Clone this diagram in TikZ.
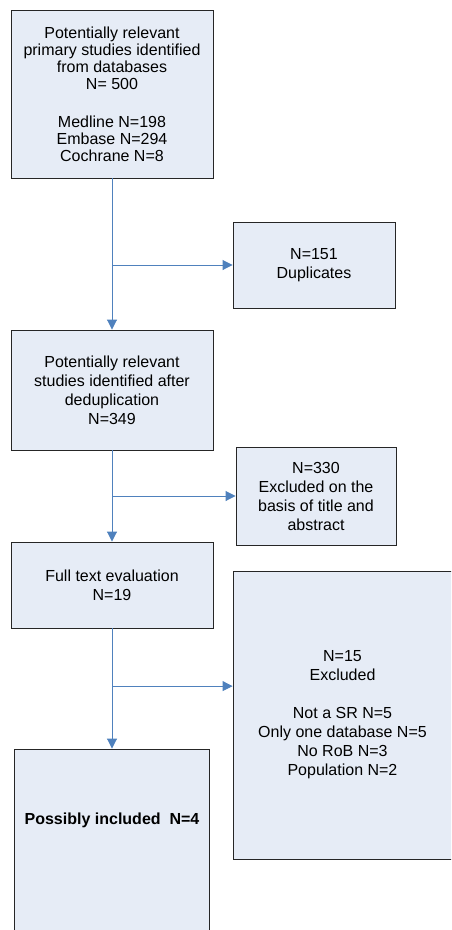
\documentclass[tikz,border=0pt]{standalone}
\usepackage{fontspec}
\setmainfont{Liberation Sans}
\usetikzlibrary{calc}
\usetikzlibrary{arrows.meta}
\usetikzlibrary{positioning}

\definecolor{boxfill}{RGB}{230,236,246}
\definecolor{flowblue}{RGB}{79,129,189}

\tikzset{
  stagebox/.style={draw=black!85, line width=0.9pt, fill=boxfill,
    align=center, inner sep=3pt,
    font=\fontsize{16}{19}\selectfont},
}

\begin{document}
\begin{tikzpicture}[x=1pt, y=-1pt]

    \useasboundingbox (0,0) rectangle (451,930);
    \clip (0,0) rectangle (451,930);

    % boxes of the flow chart, centres at the tuple
    \begin{scope}[every node/.style={stagebox}]
    \node[minimum width=202pt, minimum height=168pt,
          font=\fontsize{16}{17}\selectfont] (found) at (112,94)
      {Potentially relevant\\ primary studies identified\\ from databases\\ N= 500\\[4pt]
       \\ Medline N=198\\ Embase N=294\\ Cochrane N=8};
    \node[minimum width=162pt, minimum height=86pt] (dupl) at (314,265)
      {N=151\\ Duplicates};
    \node[minimum width=202pt, minimum height=120pt] (dedup) at (112,390)
      {Potentially relevant\\ studies identified after\\ deduplication\\ N=349};
    \node[minimum width=160pt, minimum height=98pt] (extitle) at (316,496)
      {N=330\\ Excluded on the\\ basis of title and\\ abstract};
    \node[minimum width=202pt, minimum height=86pt] (fulltext) at (112,585)
      {Full text evaluation\\ N=19};
    \node[minimum width=219pt, minimum height=288pt] (exfull) at (342.5,715)
      {N=15\\ Excluded\\ \\ Not a SR N=5\\ Only one database N=5\\ No RoB N=3\\ Population N=2};
    \node[minimum width=195pt, minimum height=206pt,
          label={[font=\fontsize{16}{19}\selectfont\bfseries, anchor=north, yshift=-61pt]north:Possibly included\ \ N=4}]
      (incl) at (112,852) {};
    \end{scope}

    % branching points on the vertical line
    \coordinate (j1) at (found.south |- dupl.west);
    \coordinate (j2) at (dedup.south |- extitle.west);
    \coordinate (j3) at ($(fulltext.south)!0.48!(incl.north)$);

    % connectors
    \begin{scope}[>={Triangle[length=10pt, width=10pt]},
              every edge/.style={draw=flowblue, line width=0.9pt}]
    \path [->] (found) edge (dedup);
    \path [->] (j1) edge (dupl.west);
    \path [->] (dedup) edge (fulltext);
    \path [->] (j2) edge (extitle.west);
    \path [->] (fulltext) edge (incl);
    \path [->] (j3) edge (j3 -| exfull.west);
    \end{scope}

\end{tikzpicture}
\end{document}
